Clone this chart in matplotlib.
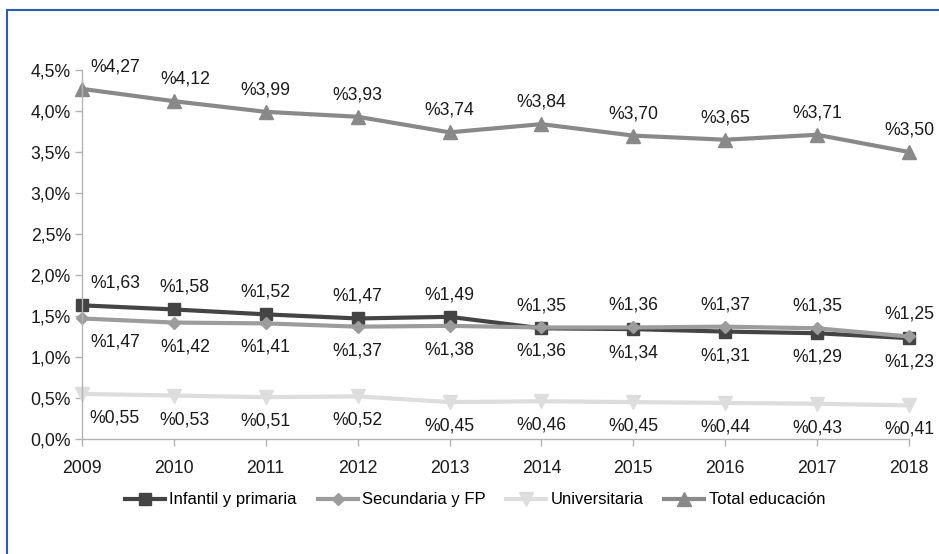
import matplotlib.pyplot as plt
from matplotlib.lines import Line2D
from matplotlib.ticker import FuncFormatter

# gasto en educación (% PIB)
anios = [2009, 2010, 2011, 2012, 2013, 2014, 2015, 2016, 2017, 2018]
infantil = [1.63, 1.58, 1.52, 1.47, 1.49, 1.35, 1.34, 1.31, 1.29, 1.23]
secundaria = [1.47, 1.42, 1.41, 1.37, 1.38, 1.36, 1.36, 1.37, 1.35, 1.25]
universitaria = [0.55, 0.53, 0.51, 0.52, 0.45, 0.46, 0.45, 0.44, 0.43, 0.41]
total = [4.27, 4.12, 3.99, 3.93, 3.74, 3.84, 3.70, 3.65, 3.71, 3.50]
nombres = ["Infantil y primaria", "Secundaria y FP", "Universitaria", "Total educación"]
yticks = [0, 0.5, 1.0, 1.5, 2.0, 2.5, 3.0, 3.5, 4.0, 4.5]

plt.rcParams['font.family'] = ['Liberation Sans', 'DejaVu Sans']
plt.rcParams['font.size'] = 12.7

fig = plt.figure(figsize=(9.39, 5.54), dpi=100)
ax = fig.add_axes([0.0873, 0.2076, 0.8807, 0.666])

series = [
    (infantil, '#444444', 's', 8.5),
    (secundaria, '#9c9c9c', 'D', 6.5),
    (universitaria, '#dddddd', 'v', 10),
    (total, '#898989', '^', 10),
]
for (vals, col, mk, ms), nom in zip(series, nombres):
    ax.plot(anios, vals, color=col, lw=3, marker=mk, ms=ms, mec=col, mfc=col,
            label=nom, clip_on=False, solid_joinstyle='miter')

def etiqueta(x, v, arriba):
    dx = 33 if x == anios[0] else (11 if x == anios[1] else 0)
    dy = 22 if arriba else -24
    ax.annotate('%' + f'{v:.2f}'.replace('.', ','), (x, v), xytext=(dx, dy),
                textcoords='offset pixels', ha='center', va='center',
                fontsize=12.7, color='#1a1a1a')

for i, x in enumerate(anios):
    etiqueta(x, total[i], True)
    etiqueta(x, infantil[i], i <= 5)
    etiqueta(x, secundaria[i], i > 5)
    etiqueta(x, universitaria[i], False)

ax.set_xlim(anios[0], anios[-1])
ax.set_ylim(0, 4.5)
ax.set_xticks(anios)
ax.set_yticks(yticks)
ax.yaxis.set_major_formatter(FuncFormatter(lambda v, p: f'{v:.1f}'.replace('.', ',') + '%'))
for s in ['top', 'right']:
    ax.spines[s].set_visible(False)
for s in ['left', 'bottom']:
    ax.spines[s].set_color('#b3b3b3')
    ax.spines[s].set_linewidth(1)
ax.tick_params(axis='both', colors='#b3b3b3', labelcolor='#1a1a1a', length=5, width=1, labelsize=12.7)
ax.tick_params(axis='y', pad=3)
ax.tick_params(axis='x', pad=10)

fig.legend(loc='center', bbox_to_anchor=(0.506, 0.0975), ncol=4, frameon=False,
           handlelength=2.4, handletextpad=0.25, columnspacing=1.25, fontsize=12)

# marco azul
fig.add_artist(Line2D([7/939, 1], [1 - 10/554, 1 - 10/554], color='#2a5db0', lw=1.5))
fig.add_artist(Line2D([7/939, 7/939], [0, 1 - 10/554], color='#2a5db0', lw=1.5))

fig.savefig('out.png', dpi=100)
